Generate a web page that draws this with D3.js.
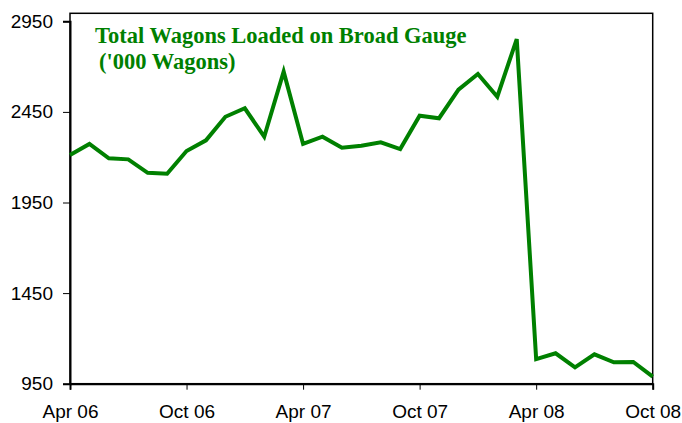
<!DOCTYPE html>
<html>
<head>
<meta charset="utf-8">
<script src="https://cdn.jsdelivr.net/npm/d3@7"></script>
<style>
  body { margin: 0; background: #fff; }
  svg { display: block; }
</style>
</head>
<body>
<div id="chart"></div>
<script>
// monthly data, Apr 06 .. Oct 08
var months = ["Apr 06","May 06","Jun 06","Jul 06","Aug 06","Sep 06","Oct 06","Nov 06","Dec 06","Jan 07","Feb 07","Mar 07",
  "Apr 07","May 07","Jun 07","Jul 07","Aug 07","Sep 07","Oct 07","Nov 07","Dec 07","Jan 08","Feb 08","Mar 08",
  "Apr 08","May 08","Jun 08","Jul 08","Aug 08","Sep 08","Oct 08"];
var wagons = [2212, 2273, 2194, 2188, 2114, 2109, 2234, 2293, 2423, 2470, 2313, 2672,
  2273, 2313, 2252, 2263, 2282, 2245, 2429, 2415, 2573, 2659, 2534, 2852,
  1086, 1118, 1040, 1112, 1068, 1070, 989];
var xTickLabels = ["Apr 06", "Oct 06", "Apr 07", "Oct 07", "Apr 08", "Oct 08"];
var yTicks = [950, 1450, 1950, 2450, 2950];
var titleLines = ["Total Wagons Loaded on Broad Gauge", "('000 Wagons)"];

var width = 682, height = 423;
var margin = { left: 70, right: 29.3, top: 13.3, bottom: 39.3 };

var svg = d3.select("#chart").append("svg")
  .attr("width", width)
  .attr("height", height);

var x = d3.scalePoint()
  .domain(months)
  .range([margin.left, width - margin.right]);

var y = d3.scaleLinear()
  .domain([950, 2950])
  .range([height - margin.bottom, 21.3]);

// plot frame
svg.append("rect")
  .attr("x", margin.left)
  .attr("y", margin.top)
  .attr("width", width - margin.left - margin.right)
  .attr("height", height - margin.top - margin.bottom)
  .attr("fill", "none")
  .attr("stroke", "#000")
  .attr("stroke-width", 1.5);

// y axis
var yAxis = svg.append("g")
  .attr("transform", "translate(" + margin.left + ",0)")
  .call(d3.axisLeft(y).tickValues(yTicks).tickSize(7).tickPadding(10).tickFormat(d3.format("d")));

// x axis
var xAxis = svg.append("g")
  .attr("transform", "translate(0," + (height - margin.bottom) + ")")
  .call(d3.axisBottom(x).tickValues(xTickLabels).tickSize(6).tickPadding(15));

[yAxis, xAxis].forEach(function(g) {
  g.select(".domain").attr("stroke", "#000").attr("stroke-width", 2);
  g.selectAll(".tick line").attr("stroke", "#000").attr("stroke-width", 1);
  g.selectAll("text")
    .attr("fill", "#000")
    .style("font-family", "'Liberation Sans', Arial, sans-serif")
    .style("font-size", "19px");
});

// the line
var line = d3.line()
  .x(function(d, i) { return x(months[i]); })
  .y(function(d) { return y(d); });

svg.append("path")
  .datum(wagons)
  .attr("d", line)
  .attr("fill", "none")
  .attr("stroke", "#008000")
  .attr("stroke-width", 4)
  .attr("stroke-linejoin", "miter");

// title
svg.selectAll(".title")
  .data(titleLines)
  .enter()
  .append("text")
  .attr("class", "title")
  .attr("x", function(d, i) { return i === 0 ? 95 : 99; })
  .attr("y", function(d, i) { return 43 + i * 26; })
  .attr("fill", "#008000")
  .style("font-family", "'Liberation Serif', 'Times New Roman', serif")
  .style("font-weight", "bold")
  .style("font-size", "22.5px")
  .text(function(d) { return d; });
</script>
</body>
</html>
